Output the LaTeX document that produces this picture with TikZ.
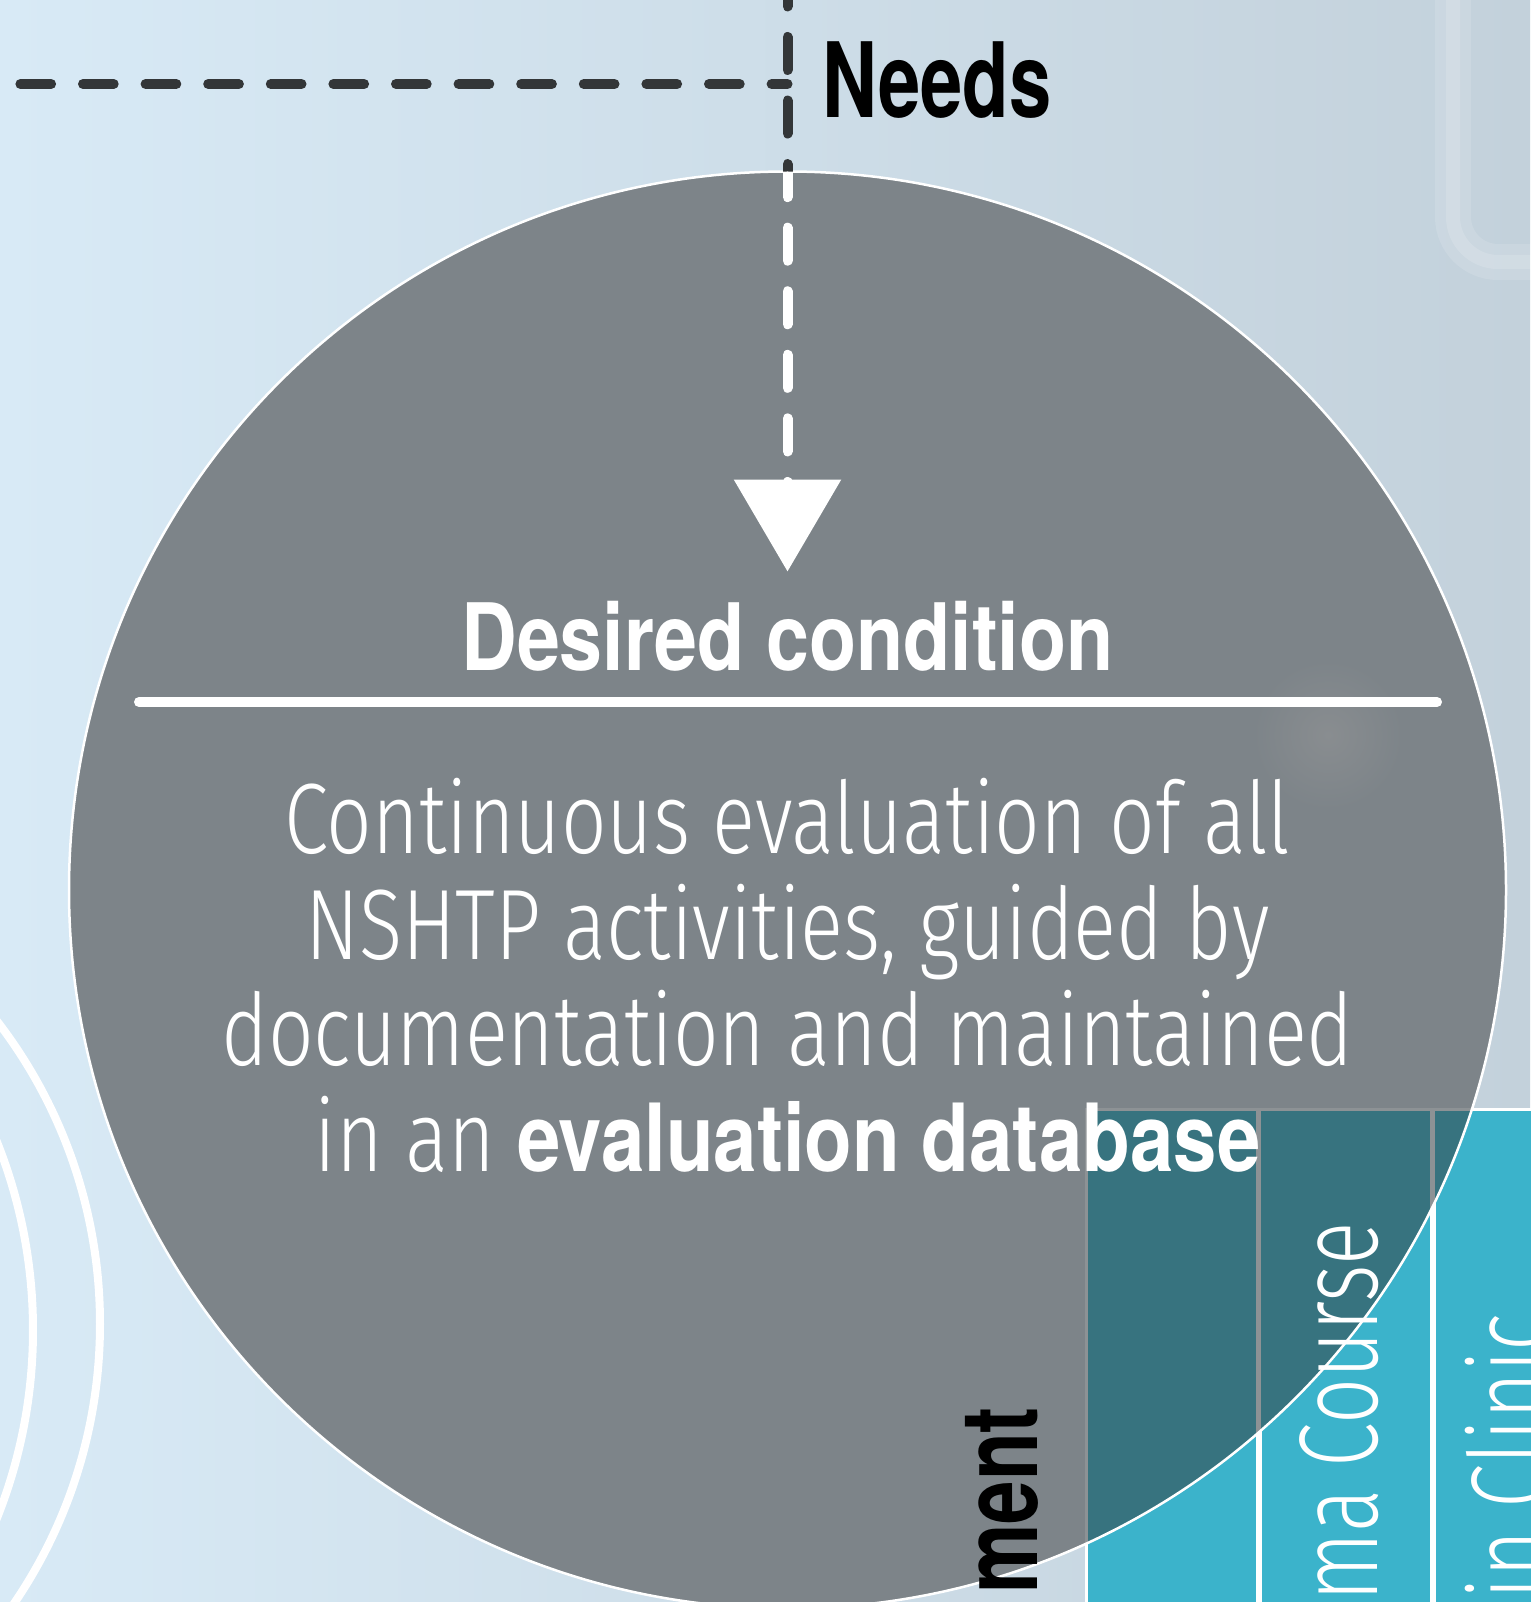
\documentclass[tikz,border=0pt]{standalone}
\usepackage{fontspec}
\usepackage{tikz}
\usetikzlibrary{arrows.meta, positioning, calc}
\newfontfamily\lightcn{Fira Sans Light}[FakeStretch=0.80]
\newfontfamily\labelcn{Fira Sans Light}[FakeStretch=0.72]
\newfontfamily\boldcn{TeX Gyre Heros}[FakeStretch=0.83]
\newfontfamily\heavycn{TeX Gyre Heros}[FakeStretch=0.73]
\definecolor{bgleft}{HTML}{D8EAF6}
\definecolor{bgright}{HTML}{C3D1DB}
\definecolor{discgrey}{HTML}{7D8489}
\definecolor{blobgrey}{HTML}{898D90}
\definecolor{tealbox}{HTML}{3BB3CB}
\definecolor{tealdark}{HTML}{37737F}
\definecolor{sepgrey}{HTML}{8D9295}
\definecolor{dashdark}{HTML}{333638}
\tikzset{
	every node/.style={
		align=center,
		inner sep=0pt,
	},
	colbox/.style={rectangle, draw=white, line width=3pt, fill=tealbox, anchor=north west, minimum width=171pt, minimum height=520pt},
	colboxin/.style={colbox, draw=sepgrey, line width=2.5pt, fill=tealdark},
	dashline/.style={line width=10pt, line cap=round},
	collabel/.style={rotate=90, anchor=base east, text=white, font=\labelcn\fontsize{112}{112}\selectfont},
}

\begin{document}
\begin{tikzpicture}[x=1pt, y=-1pt]
        \useasboundingbox (0,0) rectangle (1530,1602);
        % background
        \shade[left color=bgleft, right color=bgright] (0,0) rectangle (1530,1602);
        \draw[white, opacity=0.12, line width=36pt, rounded corners=45pt] (1453,-30) -- (1453,262) -- (1570,262);
        \draw[white, opacity=0.15, line width=14pt, rounded corners=45pt] (1453,-30) -- (1453,262) -- (1570,262);
        \draw[white, line width=8pt] (-397,1324) circle (497);
        \draw[white, line width=8pt] (-474,1330) circle (507);
        % columns
        \node[colbox] (col1) at (1085,1108) {};
        \node[colbox] (col2) at (col1.north east) {};
        \node[colbox] (col3) at (col2.north east) {};
        % disc
        \coordinate (disc) at (787.5,890);
        \fill[discgrey] (disc) circle (718.5);
        \shade[inner color=blobgrey, outer color=discgrey] (1328,735) circle (75);
        \begin{scope}
        \clip (disc) circle (718.5);
        \node[colboxin] (col1in) at (1085,1108) {};
        \node[colboxin] (col2in) at (col1in.north east) {};
        \node[colboxin] (col3in) at (col2in.north east) {};
        \end{scope}
        \draw[white, line width=2.5pt] (disc) circle (718.5);
        % texts
        \node[anchor=base west, font=\heavycn\bfseries\fontsize{104}{104}\selectfont] (needs) at (822,118) {Needs};
        \node[anchor=base, text=white, font=\boldcn\bfseries\fontsize{93}{93}\selectfont] (desired) at (787.5,670) {Desired condition};
        \node[anchor=base, text=white, font=\lightcn\fontsize{100}{106}\selectfont] (body) at (787.5,1171) {Continuous evaluation of all\\NSHTP activities, guided by\\documentation and maintained\\in an {\boldcn\bfseries\fontsize{94}{106}\selectfont evaluation database}};
        \node[rotate=90, anchor=base east, font=\heavycn\bfseries\fontsize{107}{107}\selectfont] (ment) at (1037,1407) {ment};
        \node[collabel] (course) at (1377,1222) {ma Course};
        \node[collabel] (clinic) at (1549,1313) {in Clinic};
        % rule and needs lines
        \coordinate (rulel) at (139,702);
        \coordinate (ruler) at (1437,702);
        \draw[white, line width=10pt, line cap=round] (rulel) -- (ruler);
        \coordinate (vtop) at (787.5,-26.6);
        \coordinate (hleft) at (20.4,84);
        \coordinate (hcross) at (787.5,84);
        \draw[dashline, dashdark, dash pattern=on 30.7pt off 31.9pt] (hleft) -- (hcross);
        \begin{scope}
        \clip (0,-40) rectangle (1530,172);
        \draw[dashline, dashdark, dash pattern=on 33pt off 30.57pt] (vtop) -- (desired.north);
        \end{scope}
        \begin{scope}
        \clip (disc) circle (718.5);
        \draw[dashline, white, dash pattern=on 33pt off 30.57pt, -{Triangle[length=92pt, width=105pt]}, shorten >=29pt] (vtop) -- (desired.north);
        \end{scope}
\end{tikzpicture}
\end{document}
